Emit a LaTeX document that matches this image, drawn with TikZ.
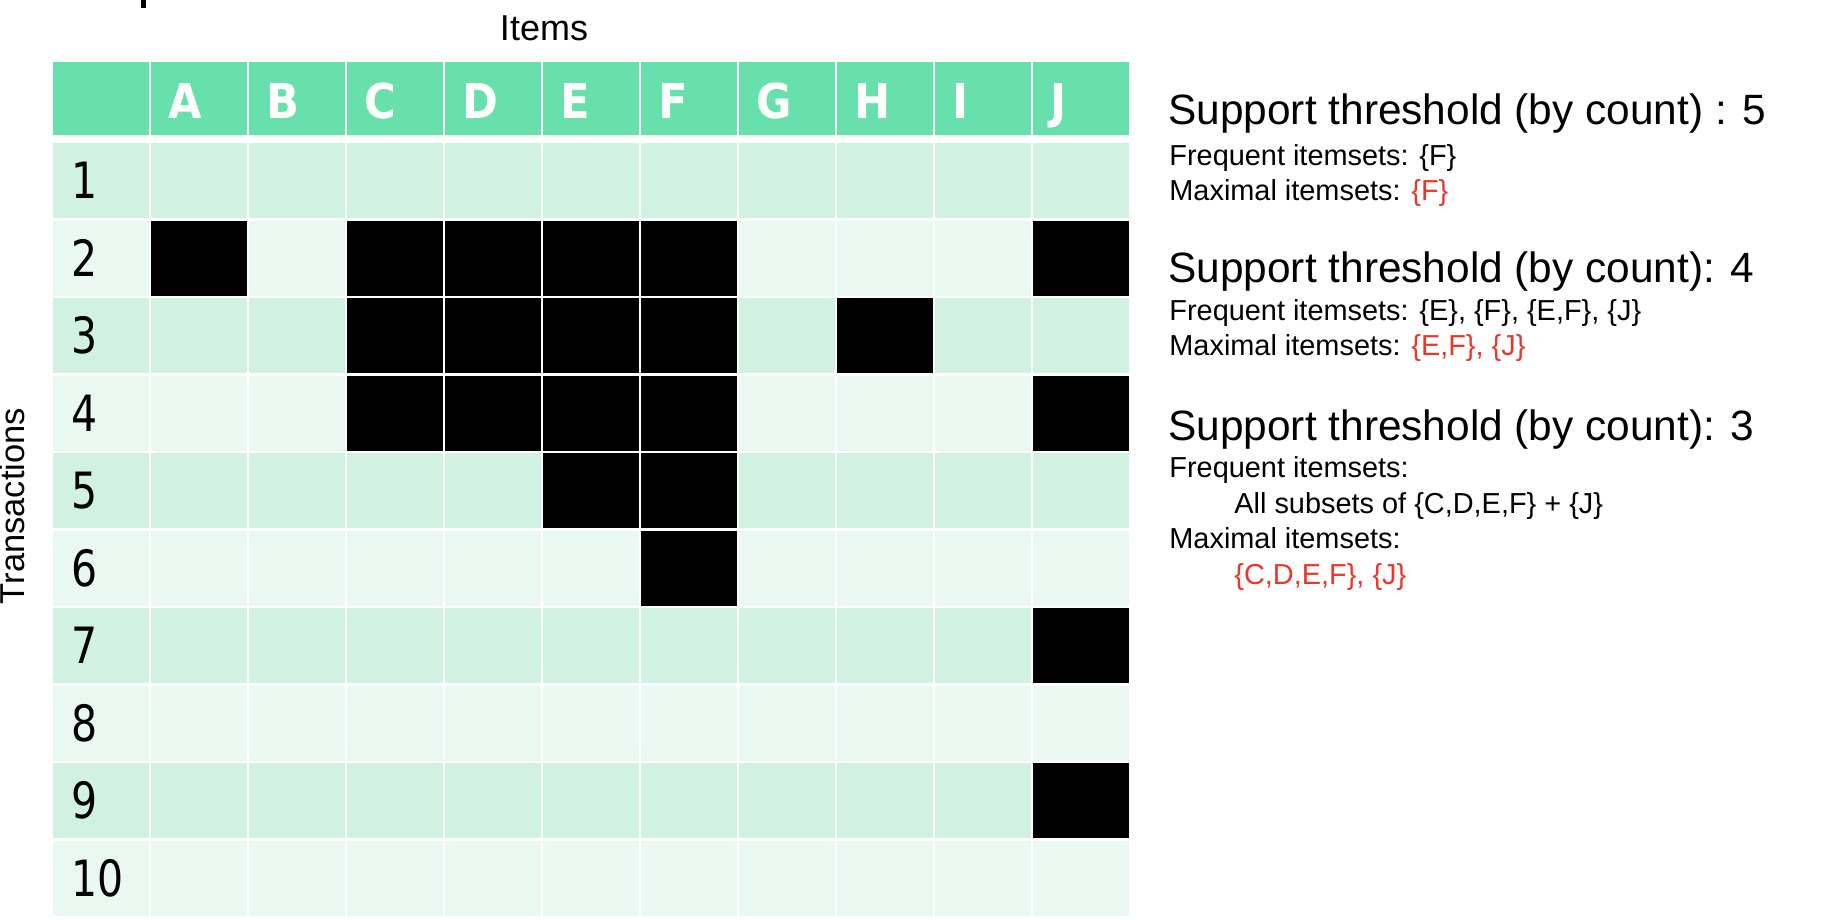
\documentclass[tikz,border=0pt]{standalone}
\usepackage{fontspec}
\setmainfont{Liberation Sans}
\newfontfamily\hdrfont[FakeStretch=0.9]{DejaVu Sans}
\newfontfamily\numfont[FakeStretch=0.82]{DejaVu Sans}
\definecolor{hdrgreen}{RGB}{104,224,172}
\definecolor{rowodd}{RGB}{209,242,225}
\definecolor{roweven}{RGB}{233,248,240}
\definecolor{hlred}{RGB}{232,56,45}
\begin{document}
\begin{tikzpicture}[x=0.5pt,y=-0.5pt,
  cellbox/.style={inner sep=0pt, outer sep=0pt, minimum width=48pt, minimum height=37.5pt, anchor=north west, draw=none},
  hdrbox/.style={cellbox, fill=hdrgreen, minimum height=36.5pt},
  hdrletter/.style={anchor=base west, inner sep=0pt, text=white, font=\hdrfont\bfseries\fontsize{24}{24}\selectfont},
  rownum/.style={anchor=base west, inner sep=0pt, text=black, font=\numfont\fontsize{25}{25}\selectfont},
  bigtxt/.style={anchor=base west, inner sep=0pt, font=\fontsize{21.2}{25}\selectfont},
  smalltxt/.style={anchor=base west, inner sep=0pt, font=\fontsize{14.45}{17}\selectfont},
  axislbl/.style={anchor=base, inner sep=0pt, font=\fontsize{18}{20}\selectfont}
]
\useasboundingbox (0,0) rectangle (1822,920);

% fragment of a title cut off at the top
\fill[black] (141,0) rectangle (146,8.5);

% axis labels
\node[axislbl] (items) at (544,41) {Items};
\node[axislbl, rotate=90, font=\fontsize{17.25}{20}\selectfont] (trans) at (25,506) {Transactions};

% header row
\foreach \c in {0,...,10} {
  \node[hdrbox] (h\c) at ({53+\c*98},62) {};
}
\foreach \c/\L in {1/A,2/B,3/C,4/D,5/E,6/F,7/G,8/H,9/I,10/J} {
  \node[hdrletter] (l\c) at ({53+\c*98+17},119) {\L};
}

% body rows
\foreach \r in {1,...,10} {
  \pgfmathsetmacro\yy{143+(\r-1)*77.55}
  \ifodd\r \def\rc{rowodd}\else\def\rc{roweven}\fi
  \foreach \c in {0,...,10} {
    \node[cellbox, fill=\rc] (c-\r-\c) at ({53+\c*98},\yy) {};
  }
  \node[rownum] (n\r) at (71,{\yy+37.5+18}) {\r};
}

% occupied cells
\foreach \r/\c in {2/1,2/3,2/4,2/5,2/6,2/10,
                   3/3,3/4,3/5,3/6,3/8,
                   4/3,4/4,4/5,4/6,4/10,
                   5/5,5/6,6/6,7/10,9/10} {
  \pgfmathsetmacro\yy{143+(\r-1)*77.55}
  \node[cellbox, fill=black] (b-\r-\c) at ({53+\c*98},\yy) {};
}

% right-hand text
\node[bigtxt] (t1) at (1168,125) {Support threshold (by count) : 5};
\node[smalltxt] (f1) at (1169,166) {Frequent itemsets: \{F\}};
\node[smalltxt] (m1) at (1169,200) {Maximal itemsets: \textcolor{hlred}{\{F\}}};

\node[bigtxt] (t2) at (1168,282) {Support threshold (by count): 4};
\node[smalltxt] (f2) at (1169,320) {Frequent itemsets: \{E\}, \{F\}, \{E,F\}, \{J\}};
\node[smalltxt] (m2) at (1169,355) {Maximal itemsets: \textcolor{hlred}{\{E,F\}, \{J\}}};

\node[bigtxt] (t3) at (1168,440) {Support threshold (by count): 3};
\node[smalltxt] (f3) at (1169,477) {Frequent itemsets:};
\node[smalltxt] (a3) at (1234,513) {All subsets of \{C,D,E,F\} + \{J\}};
\node[smalltxt] (m3) at (1169,548) {Maximal itemsets:};
\node[smalltxt] (r3) at (1234,584) {\textcolor{hlred}{\{C,D,E,F\}, \{J\}}};
\end{tikzpicture}
\end{document}
